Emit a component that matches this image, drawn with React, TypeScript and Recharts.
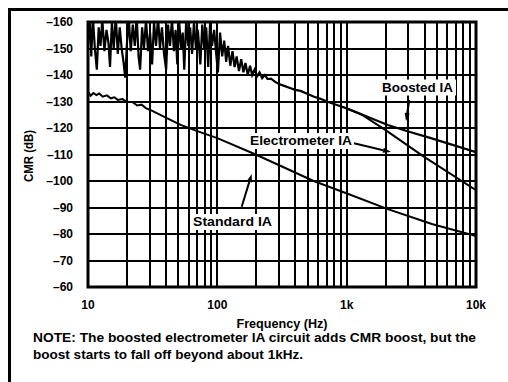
import React from 'react';
import { LineChart, Line, XAxis, YAxis, ReferenceLine, ReferenceArea } from 'recharts';

// log frequency grid, 1..9 per decade
const xTicks = [
  10, 20, 30, 40, 50, 60, 70, 80, 90,
  100, 200, 300, 400, 500, 600, 700, 800, 900,
  1000, 2000, 3000, 4000, 5000, 6000, 7000, 8000, 9000,
  10000
];
const yTicks = [-160, -150, -140, -130, -120, -110, -100, -90, -80, -70, -60];

// Boosted electrometer IA trace (noisy below ~200Hz)
const boostedFreq = [
  10, 10.3, 10.6, 10.9, 11.3, 11.7, 12.1, 12.5, 12.9, 13.4, 13.9, 14.4, 14.8, 15.3, 15.8,
  16.4, 17, 17.6, 18.2, 18.8, 19.4, 20, 20.7, 21.4, 22.2, 23, 23.8, 24.6, 25.3, 26.2,
  27.1, 28.1, 29.1, 30.2, 31.3, 32.4, 33.6, 34.8, 36, 37.3, 38.7, 40.2, 41.6, 43.1, 44.6,
  46.2, 47.6, 49, 50.7, 52.5, 54, 55.5, 57.5, 59.5, 61.6, 63.8, 66, 68.3, 70.7, 73.9,
  76.5, 79.2, 82, 85, 88, 91, 94.5, 98, 101, 105, 109, 113, 117, 121, 126,
  131, 136, 141, 147, 153, 159, 165, 172, 179, 186, 194, 203, 212, 222, 233,
  244, 260, 280, 300, 325, 360, 400, 440, 500, 560, 628, 720, 851, 1000, 1400,
  2080, 3000, 4480, 10000
];
const boostedCmr = [
  -152, -161, -147, -162, -150, -142, -158, -151, -161, -149, -157, -152, -143, -160, -150,
  -162, -148, -158, -150, -145, -139, -152, -161, -149, -159, -151, -162, -147, -142, -158,
  -150, -161, -149, -156, -144, -160, -151, -162, -150, -158, -148, -142, -159, -151, -161,
  -149, -157, -144, -160, -150, -156, -142, -161, -151, -158, -148, -160, -150, -157, -144,
  -159, -150, -158, -143, -160, -151, -157, -148, -141, -156, -147, -153, -145, -151, -143.5,
  -149, -143, -147, -141.5, -146, -141, -144.5, -140, -143.5, -140, -142, -139.5, -141, -138.8, -140,
  -138.5, -138.6, -137.4, -136.6, -136, -135.2, -134.4, -134, -132.8, -131.8, -131, -129.8, -128.6, -127.4, -124.5,
  -121.1, -118.7, -116.2, -110.9
];

// Electrometer IA without boost, splits off above ~1kHz
const electroFreq = [1000, 1300, 2000, 4000, 10000];
const electroCmr = [-127.4, -125.1, -119.2, -109, -96.5];

// Standard IA
const standardFreq = [
  10, 10.5, 11, 11.6, 12.2, 13, 14, 15, 16, 17, 18.5, 20, 22, 24, 26, 28, 30, 35, 40,
  52, 70, 100, 200, 555, 1018, 2080, 4560, 10000
];
const standardCmr = [
  -133.6, -132.2, -133.2, -132.4, -133, -131.8, -132.3, -131.2, -131.6, -130.6, -130.9,
  -129.8, -129.8, -128.5, -128.8, -127.5, -126.9, -125.3, -123.9,
  -121.2, -118.8, -116.2, -109.9, -100, -95.2, -89.4, -83.8, -79.2
];

const toPoints = (fs: number[], vs: number[]) => fs.map((f, i) => ({ f, cmr: vs[i] }));

const boostedData = toPoints(boostedFreq, boostedCmr);
const electroData = toPoints(electroFreq, electroCmr);
const standardData = toPoints(standardFreq, standardCmr);

const FONT = '"Liberation Sans", Arial, Helvetica, sans-serif';

const formatFreq = (v: number) => {
  if (v === 10) return '10';
  if (v === 100) return '100';
  if (v === 1000) return '1k';
  if (v === 10000) return '10k';
  return '';
};

const formatCmr = (v: number) => String(v).replace('-', '\u2013');

// simple arrow with filled head at (x2, y2)
const Arrow = ({ x1, y1, x2, y2 }: { x1: number; y1: number; x2: number; y2: number }) => {
  const a = Math.atan2(y2 - y1, x2 - x1);
  const len = 8;
  const w = 2.6;
  const bx = x2 - len * Math.cos(a);
  const by = y2 - len * Math.sin(a);
  const px = -Math.sin(a) * w;
  const py = Math.cos(a) * w;
  return (
    <g>
      <line x1={x1} y1={y1} x2={bx} y2={by} stroke="#000" strokeWidth={2} />
      <polygon points={`${x2},${y2} ${bx + px},${by + py} ${bx - px},${by - py}`} fill="#000" />
    </g>
  );
};

const labelStyle = { fontFamily: FONT, fontWeight: 700, fill: '#000' } as const;

// label with a white box behind it, like the original
const Tag = ({ x, y, w, text, size = 13 }: { x: number; y: number; w: number; text: string; size?: number }) => (
  <g>
    <rect x={x - 3} y={y - size + 1} width={w + 6} height={size + 3} fill="#fff" />
    <text {...labelStyle} fontSize={size} x={x} y={y} textLength={w} lengthAdjust="spacingAndGlyphs">
      {text}
    </text>
  </g>
);

export default function App() {
  return (
    <div style={{ position: 'absolute', width: 500, height: 374, background: '#fff', overflow: 'hidden' }}>
      {/* page frame */}
      <div style={{ position: 'absolute', left: 0, top: 0, width: 500, height: 3, background: '#000' }} />
      <div style={{ position: 'absolute', left: 0, top: 0, width: 3, height: 374, background: '#000' }} />

      <div style={{ position: 'absolute', left: 0, top: 0 }}>
        <LineChart
          width={500}
          height={366}
          margin={{ top: 14, right: 32, bottom: 57, left: 20 }}
          accessibilityLayer={false}
          style={{ outline: 'none' }}
        >
          <XAxis
            dataKey="f"
            type="number"
            scale="log"
            domain={[10, 10000]}
            ticks={xTicks}
            interval={0}
            allowDataOverflow
            tickFormatter={formatFreq}
            axisLine={false}
            tickLine={false}
            tickSize={0}
            tickMargin={13}
            height={30}
            tick={{ fill: '#000', fontSize: 12, fontWeight: 700, fontFamily: FONT }}
          />
          <YAxis
            type="number"
            reversed
            domain={[-160, -60]}
            ticks={yTicks}
            interval={0}
            allowDataOverflow
            tickFormatter={formatCmr}
            axisLine={false}
            tickLine={false}
            tickSize={0}
            tickMargin={15}
            width={60}
            tick={{ fill: '#000', fontSize: 12, fontWeight: 700, fontFamily: FONT }}
          />
          {xTicks.map((t) => (
            <ReferenceLine key={`gx${t}`} x={t} stroke="#000" strokeWidth={2} shapeRendering="crispEdges" />
          ))}
          {yTicks.map((t) => (
            <ReferenceLine key={`gy${t}`} y={t} stroke="#000" strokeWidth={2} shapeRendering="crispEdges" />
          ))}
          <ReferenceArea x1={10} x2={10000} y1={-160} y2={-60} fill="none" stroke="#000" strokeWidth={3} ifOverflow="visible" />
          <Line data={standardData} dataKey="cmr" type="linear" stroke="#000" strokeWidth={2} dot={false} isAnimationActive={false} />
          <Line data={electroData} dataKey="cmr" type="linear" stroke="#000" strokeWidth={2} dot={false} isAnimationActive={false} />
          <Line data={boostedData} dataKey="cmr" type="linear" stroke="#000" strokeWidth={2.2} dot={false} isAnimationActive={false} />
        </LineChart>
      </div>

      <svg width={500} height={366} style={{ position: 'absolute', left: 0, top: 0, pointerEvents: 'none' }}>
        <text {...labelStyle} fontSize={12} transform="translate(25,148) rotate(-90)" textAnchor="middle" textLength={52} lengthAdjust="spacingAndGlyphs">
          CMR (dB)
        </text>
        <text {...labelStyle} fontSize={12} x={228.5} y={319.5} textLength={91} lengthAdjust="spacingAndGlyphs">
          Frequency (Hz)
        </text>

        <Tag x={374} y={83.5} w={71} text="Boosted IA" />
        <Arrow x1={401.3} y1={92} x2={398} y2={113} />

        <Tag x={242} y={137} w={102} text="Electrometer IA" />
        <Arrow x1={346} y1={135.3} x2={383} y2={144} />

        <Tag x={185} y={218} w={79} text="Standard IA" />
        <Arrow x1={233.7} y1={198.7} x2={243.7} y2={166} />

        <text {...labelStyle} fontSize={12} x={25} y={333.5} textLength={443} lengthAdjust="spacingAndGlyphs">
          NOTE: The boosted electrometer IA circuit adds CMR boost, but the
        </text>
        <text {...labelStyle} fontSize={12} x={25} y={351} textLength={270} lengthAdjust="spacingAndGlyphs">
          boost starts to fall off beyond about 1kHz.
        </text>
      </svg>
    </div>
  );
}
